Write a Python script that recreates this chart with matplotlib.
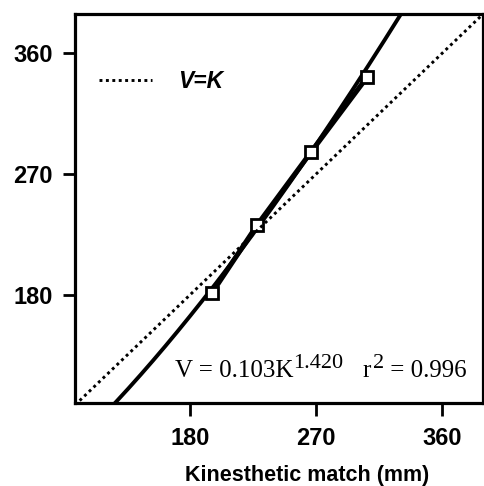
import numpy as np
import matplotlib
matplotlib.use('Agg')
import matplotlib.pyplot as plt

# 数据：动觉匹配 K (mm) 与 视觉匹配 V (mm)
kin_match = [195.7, 227.9, 266.4, 306.4]
vis_match = [181.5, 232.0, 286.4, 342.2]
# 幂函数拟合 V = a * K^b
fit_a = 0.103
fit_b = 1.420
r2 = 0.996
ticks = [180, 270, 360]

plt.rcParams['font.family'] = ['Liberation Sans', 'DejaVu Sans']

fig = plt.figure(figsize=(4.84, 4.86), dpi=100)
ax = fig.add_axes([0.155, 0.171, 0.843, 0.800])

xlim = (98, 389)
ylim = (99.6, 389)

# 拟合曲线
k = np.linspace(xlim[0], xlim[1], 200)
ax.plot(k, fit_a * k ** fit_b, color='black', lw=2.8, solid_capstyle='butt')
# 数据点连线 + 空心方块
ax.plot(kin_match, vis_match, color='black', lw=3.6)
ax.plot(kin_match, vis_match, ls='none', marker='s', ms=8.5, mfc='white',
        mec='black', mew=2)
# V=K 对角线
ax.plot(xlim, xlim, color='black', lw=2.1, ls=(0, (1, 1.2)), label='V=K')

ax.set_xlim(*xlim)
ax.set_ylim(*ylim)
ax.set_xticks(ticks)
ax.set_yticks(ticks)
ax.tick_params(direction='out', length=9, width=2, labelsize=17)
ax.tick_params(axis='y', pad=7)
ax.tick_params(axis='x', pad=8)
for lab in ax.get_xticklabels() + ax.get_yticklabels():
    lab.set_fontweight('bold')
for sp in ax.spines.values():
    sp.set_linewidth(2.3)

# 横轴标题略偏右
ax.set_xlabel('Kinesthetic match (mm)', fontsize=15.5, fontweight='bold',
              labelpad=11, x=0.57)

ax.legend(loc='upper left', bbox_to_anchor=(0.008, 0.91), frameon=False,
          handlelength=2.3, handletextpad=1.15,
          prop={'size': 16.5, 'style': 'italic', 'weight': 'bold'})

# 拟合公式（上标与正文字号接近）
serif = 'Liberation Serif'
t1 = ax.text(0.245, 0.067, 'V = 0.103K', transform=ax.transAxes,
             ha='left', va='baseline', fontsize=18, family=serif)
t2 = ax.annotate('%.3f' % fit_b, xy=(1, 0), xycoords=t1, xytext=(0, 6.5),
                 textcoords='offset points', ha='left', va='bottom',
                 fontsize=16, family=serif)
t3 = ax.annotate('r', xy=(1, 0), xycoords=t2, xytext=(13.5, -6.5),
                 textcoords='offset points', ha='left', va='bottom',
                 fontsize=18, family=serif)
t4 = ax.annotate('2', xy=(1, 0), xycoords=t3, xytext=(1.5, 6.5),
                 textcoords='offset points', ha='left', va='bottom',
                 fontsize=16, family=serif)
ax.annotate(' = %.3f' % r2, xy=(1, 0), xycoords=t4, xytext=(0, -6.5),
            textcoords='offset points', ha='left', va='bottom',
            fontsize=18, family=serif)

fig.savefig('out.png', dpi=100)
